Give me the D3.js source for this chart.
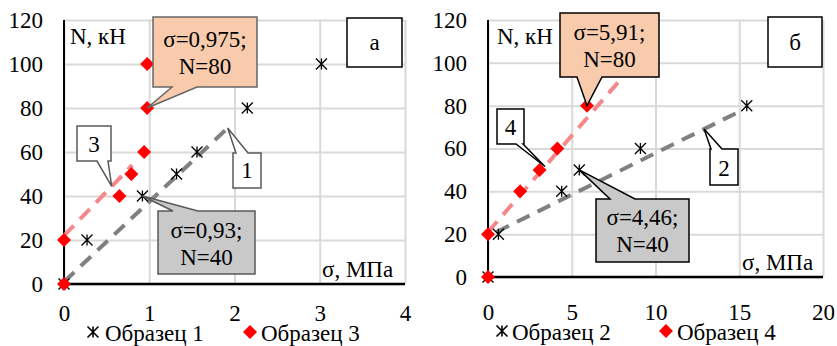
<!DOCTYPE html>
<html><head><meta charset="utf-8">
<script src="https://cdn.jsdelivr.net/npm/d3@7/dist/d3.min.js"></script></head>
<body style="margin:0">
<svg id="s" width="837" height="346"></svg>
<script>
// panel "а"
var xTicksA = [0, 1, 2, 3, 4];
var yTicks = [0, 20, 40, 60, 80, 100, 120];
var samp1 = [[0, 0], [0.27, 20], [0.92, 40], [1.32, 50], [1.56, 60], [2.15, 80], [3.02, 100]];
var samp3 = [[0, 0], [0, 20], [0.65, 40], [0.79, 50], [0.94, 60], [0.975, 80], [0.975, 100]];
var trend1 = [[0, 1], [1.95, 72]];
var trend3 = [[0, 22], [0.8, 54]];

// panel "б"
var xTicksB = [0, 5, 10, 15, 20];
var samp2 = [[0, 0], [0.62, 20], [4.4, 40], [5.45, 50], [9.1, 60], [15.45, 80]];
var samp4 = [[0, 0], [0, 20], [1.92, 40], [3.08, 50], [4.14, 60], [5.91, 80]];
var trend2 = [[0.5, 21], [15.2, 78]];
var trend4 = [[0, 21], [8, 93]];

var legendA = ["Образец 1", "Образец 3"];
var legendB = ["Образец 2", "Образец 4"];

var FONT = "Liberation Serif";
var svg = d3.select("#s");

function starPath(r) {
	return "M0," + (-r) + "L0," + r +
		"M" + (-r) + "," + (-r) + "L" + r + "," + r +
		"M" + (-r) + "," + r + "L" + r + "," + (-r);
}
function diamondPath(r) {
	return "M0," + (-r) + "L" + r + ",0L0," + r + "L" + (-r) + ",0Z";
}

// callout box with a pointer; side = "bottom" or "top"
function callout(g, box, b1, b2, tip, side, fill, stroke) {
	var x0 = box[0], y0 = box[1], x1 = box[2], y1 = box[3];
	var d;
	if (side == "bottom") {
		d = "M" + x0 + "," + y0 + "H" + x1 + "V" + y1 + "H" + b2 +
			"L" + tip[0] + "," + tip[1] + "L" + b1 + "," + y1 + "H" + x0 + "Z";
	} else {
		d = "M" + x0 + "," + y0 + "H" + b1 + "L" + tip[0] + "," + tip[1] +
			"L" + b2 + "," + y0 + "H" + x1 + "V" + y1 + "H" + x0 + "Z";
	}
	g.append("path").attr("d", d).attr("fill", fill)
		.attr("stroke", stroke).attr("stroke-width", 1.5);
}

function txt(g, x, y, s, anchor) {
	return g.append("text").attr("x", x).attr("y", y)
		.attr("text-anchor", anchor || "start")
		.style("font-family", FONT).style("font-size", "23px")
		.text(s);
}

function drawPanel(p) {
	var g = svg.append("g");
	var x = d3.scaleLinear().domain([p.xTicks[0], p.xTicks[p.xTicks.length - 1]]).range([p.left, p.right]);
	var y = d3.scaleLinear().domain([0, 120]).range([p.bottom, p.top]);

	// grid
	g.append("g").attr("transform", "translate(0," + p.bottom + ")")
		.call(d3.axisBottom(x).tickValues(p.xTicks).tickSize(p.top - p.bottom).tickFormat(""))
		.call(function (s) { s.select(".domain").remove(); })
		.selectAll("line").attr("stroke", "#d9d9d9").attr("stroke-width", 2);
	g.append("g").attr("transform", "translate(" + p.left + ",0)")
		.call(d3.axisLeft(y).tickValues(yTicks).tickSize(p.left - p.right).tickFormat(""))
		.call(function (s) { s.select(".domain").remove(); })
		.selectAll("line").attr("stroke", "#d9d9d9").attr("stroke-width", 2);

	// tick labels
	var xa = g.append("g").attr("transform", "translate(0," + p.bottom + ")")
		.call(d3.axisBottom(x).tickValues(p.xTicks).tickSize(0).tickPadding(p.xPad).tickFormat(d3.format("d")));
	xa.select(".domain").remove();
	xa.attr("font-family", FONT).attr("font-size", 23);
	xa.selectAll("text").style("font-family", FONT).style("font-size", "23px");
	var ya = g.append("g").attr("transform", "translate(" + p.left + ",0)")
		.call(d3.axisLeft(y).tickValues(yTicks).tickSize(0).tickPadding(p.left - p.yLabRight).tickFormat(d3.format("d")));
	ya.select(".domain").remove();
	ya.attr("font-family", FONT).attr("font-size", 23);
	ya.selectAll("text").style("font-family", FONT).style("font-size", "23px");

	// axis lines
	g.append("line").attr("x1", p.left).attr("x2", p.left).attr("y1", p.top).attr("y2", p.bottom)
		.attr("stroke", "#000").attr("stroke-width", 2);
	g.append("line").attr("x1", p.left).attr("x2", p.right).attr("y1", p.bottom).attr("y2", p.bottom)
		.attr("stroke", "#000").attr("stroke-width", 2.5);

	// trend lines
	var line = d3.line().x(function (d) { return x(d[0]); }).y(function (d) { return y(d[1]); });
	g.append("path").attr("d", line(p.trendBlack)).attr("fill", "none")
		.attr("stroke", "#808080").attr("stroke-width", 4).attr("stroke-dasharray", "14,9");
	g.append("path").attr("d", line(p.trendRed)).attr("fill", "none")
		.attr("stroke", "#f4888a").attr("stroke-width", 4).attr("stroke-dasharray", "14,9");

	// markers
	g.selectAll(".star").data(p.black).enter().append("path")
		.attr("d", starPath(5.5))
		.attr("transform", function (d) { return "translate(" + x(d[0]) + "," + y(d[1]) + ")"; })
		.attr("stroke", "#000").attr("stroke-width", 1.3).attr("fill", "none");
	g.selectAll(".dia").data(p.red).enter().append("path")
		.attr("d", diamondPath(7))
		.attr("transform", function (d) { return "translate(" + x(d[0]) + "," + y(d[1]) + ")"; })
		.attr("fill", "#ff0000");

	// axis titles
	txt(g, p.nX, 44, "N, кН");
	txt(g, p.sX, p.sY, "σ, МПа");

	// callouts
	p.callouts.forEach(function (c) {
		var tip = [x(c.at[0]), y(c.at[1])];
		callout(g, c.box, c.b1, c.b2, tip, c.side, c.fill, c.stroke);
		c.lines.forEach(function (t, i) {
			txt(g, (c.box[0] + c.box[2]) / 2, c.base + i * 27, t, "middle");
		});
	});

	// panel letter
	g.append("rect").attr("x", p.letterBox[0]).attr("y", p.letterBox[1])
		.attr("width", p.letterBox[2] - p.letterBox[0]).attr("height", p.letterBox[3] - p.letterBox[1])
		.attr("fill", "#fff").attr("stroke", "#000").attr("stroke-width", 1.5);
	txt(g, (p.letterBox[0] + p.letterBox[2]) / 2, 50, p.letter, "middle");

	// legend
	g.append("path").attr("d", starPath(5.5))
		.attr("transform", "translate(" + p.leg[0] + "," + p.legY + ")")
		.attr("stroke", "#000").attr("stroke-width", 1.6).attr("fill", "none");
	txt(g, p.leg[1], p.legY + 9, p.legend[0]);
	g.append("path").attr("d", diamondPath(7))
		.attr("transform", "translate(" + p.leg[2] + "," + p.legY + ")")
		.attr("fill", "#ff0000");
	txt(g, p.leg[3], p.legY + 9, p.legend[1]);
}

function onLine(t, v) {
	var k = (t[1][1] - t[0][1]) / (t[1][0] - t[0][0]);
	return [v, t[0][1] + k * (v - t[0][0])];
}

drawPanel({
	xTicks: xTicksA, left: 64, right: 405, top: 20, bottom: 284, xPad: 21, yLabRight: 43,
	black: samp1, red: samp3, trendBlack: trend1, trendRed: trend3,
	nX: 70, sX: 322, sY: 277, letter: "а", letterBox: [347, 18, 402, 67],
	legend: legendA, leg: [93, 105, 250, 261], legY: 332,
	callouts: [
		{ box: [153, 17, 257, 87], side: "bottom", b1: 172, b2: 197, at: samp3[5], fill: "#f8cbad", stroke: "#666", lines: ["σ=0,975;", "N=80"], base: 47 },
		{ box: [158, 211, 255, 274], side: "top", b1: 173, b2: 198, at: samp1[2], fill: "#c9c9c9", stroke: "#595959", lines: ["σ=0,93;", "N=40"], base: 238 },
		{ box: [77, 126, 111, 161], side: "bottom", b1: 97, b2: 108, at: onLine(trend3, 0.56), fill: "#fff", stroke: "#595959", lines: ["3"], base: 152 },
		{ box: [233, 153, 261, 188], side: "top", b1: 236, b2: 248, at: onLine(trend1, 1.92), fill: "#fff", stroke: "#595959", lines: ["1"], base: 178 }
	]
});

drawPanel({
	xTicks: xTicksB, left: 488, right: 823, top: 20, bottom: 277, xPad: 26.5, yLabRight: 467,
	black: samp2, red: samp4, trendBlack: trend2, trendRed: trend4,
	nX: 497, sX: 742, sY: 270, letter: "б", letterBox: [768, 17, 822, 67],
	legend: legendB, leg: [502, 512, 666, 677], legY: 331,
	callouts: [
		{ box: [560, 13, 659, 77], side: "bottom", b1: 577, b2: 602, at: samp4[5], fill: "#f8cbad", stroke: "#000", lines: ["σ=5,91;", "N=80"], base: 40 },
		{ box: [596, 199, 689, 262], side: "top", b1: 610, b2: 635, at: samp2[3], fill: "#c9c9c9", stroke: "#000", lines: ["σ=4,46;", "N=40"], base: 225 },
		{ box: [497, 109, 524, 144], side: "bottom", b1: 516, b2: 523, at: onLine(trend4, 3.4), fill: "#fff", stroke: "#000", lines: ["4"], base: 135 },
		{ box: [710, 149, 738, 185], side: "top", b1: 711, b2: 722, at: onLine(trend2, 12.9), fill: "#fff", stroke: "#000", lines: ["2"], base: 176 }
	]
});
</script>
</body></html>
